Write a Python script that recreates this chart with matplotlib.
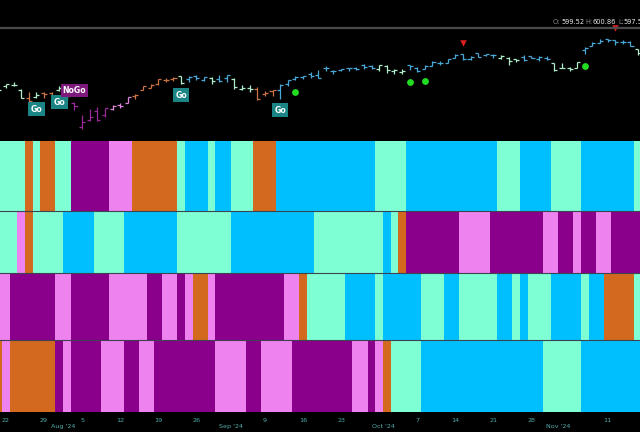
import matplotlib
matplotlib.use("Agg")
import matplotlib.pyplot as plt
from matplotlib.transforms import offset_copy, blended_transform_factory
from matplotlib.colors import ListedColormap
from matplotlib.lines import Line2D
import numpy as np

# ---------------- data ----------------
tick_idx = [1, 6, 11, 16, 21, 26, 35, 40, 45, 55, 60, 65, 70, 80]
tick_labels = ["22", "29", "5", "12", "19", "26", "9", "16", "23", "7", "14", "21", "28", "11"]
month_idx = [9, 31, 51, 74]
month_labels = ["Aug '24", "Sep '24", "Oct '24", "Nov '24"]

opens = [552.4, 553.0, 554.5, 548.9, 541.4, 542.3, 546.0, 546.3, 548.98, 552.6,
         535.8, 511.6, 519.2, 528.5, 523.9, 529.8, 534.2, 536.5, 542.85, 549.5,
         551.4, 554.7, 559.15, 559.77, 562.56, 559.53, 563.18, 559.49, 561.21, 560.31,
         560.77, 560.47, 550.2, 550.89, 549.94, 544.65, 548.36, 548.7, 555.01, 559.71,
         561.74, 565.1, 563.74, 571.01, 567.84, 569.34, 571.07, 571.14, 574.38, 573.39,
         570.42, 573.4, 567.71, 567.36, 573.7, 571.3, 570.42, 573.16, 575.77, 576.05,
         581.22, 584.59, 579.78, 585.91, 584.07, 583.85, 581.05, 581.26, 579.98, 581.51,
         582.58, 579.85, 581.29, 575.56, 571.32, 571.18, 570.74, 589.2, 593.08, 596.17,
         599.81, 598.85, 597.37, 597.32, 589.72]
highs = [554.1, 555.3, 556.7, 549.7, 547.5, 547.2, 547.0, 547.3, 553.5, 554.87,
         536.99, 523.6, 529.75, 531.6, 531.3, 534.5, 535.7, 542.3, 544.96, 553.36,
         555.0, 559.6, 560.8, 562.1, 563.18, 563.09, 563.91, 562.06, 561.65, 563.68,
         564.2, 560.81, 554.43, 553.8, 551.6, 547.71, 549.15, 555.36, 559.4, 563.03,
         563.11, 566.58, 568.69, 572.88, 569.31, 570.33, 571.37, 571.89, 574.71, 574.22,
         574.38, 574.06, 569.9, 569.8, 573.78, 571.96, 573.78, 577.71, 577.58, 580.33,
         585.27, 584.9, 582.83, 586.12, 585.39, 584.85, 584.5, 581.71, 580.06, 584.46,
         582.71, 582.91, 583.32, 575.63, 575.55, 572.5, 576.74, 591.93, 596.65, 599.64,
         600.17, 599.29, 599.23, 597.81, 590.2]
lows = [547.9, 551.0, 553.3, 540.8, 537.4, 540.9, 541.4, 537.4, 547.6, 539.4,
        528.6, 510.27, 517.87, 518.05, 521.8, 528.6, 530.95, 536.3, 540.1, 548.9,
        551.3, 553.9, 557.3, 557.7, 554.98, 557.29, 559.05, 558.32, 555.04, 557.18,
        557.14, 549.51, 549.46, 547.1, 539.44, 542.68, 543.38, 539.96, 552.74, 559.45,
        559.9, 560.79, 560.83, 568.08, 565.17, 568.1, 567.6, 568.91, 569.9, 570.42,
        568.08, 566.0, 565.27, 565.49, 568.55, 566.63, 569.53, 572.55, 574.49, 575.91,
        580.73, 578.54, 578.96, 582.16, 582.58, 580.6, 580.38, 574.42, 576.57, 578.08,
        580.52, 578.43, 579.29, 568.44, 570.62, 567.89, 570.52, 585.39, 593.0, 596.17,
        597.0, 594.37, 594.96, 592.65, 583.86]
closes = [548.99, 554.65, 553.78, 541.23, 538.41, 544.44, 544.76, 542.0, 550.81, 543.01,
          532.9, 517.38, 522.15, 518.66, 530.65, 532.99, 533.27, 542.04, 543.75, 553.07,
          554.31, 559.61, 558.7, 560.62, 556.22, 562.13, 560.79, 561.56, 558.3, 558.35,
          563.68, 552.08, 550.95, 549.61, 540.36, 546.41, 548.79, 554.42, 559.09, 562.01,
          562.84, 563.07, 561.4, 570.98, 568.25, 569.67, 571.3, 570.04, 572.3, 571.47,
          573.76, 568.62, 568.86, 567.82, 572.98, 567.8, 573.17, 577.14, 576.13, 579.58,
          584.32, 579.78, 582.3, 582.35, 584.59, 583.63, 583.32, 577.99, 579.24, 579.04,
          580.83, 581.77, 580.01, 568.64, 571.04, 569.81, 576.7, 591.04, 595.61, 598.19,
          598.76, 596.9, 597.19, 593.35, 585.75]

# state codes per bar: A aquamarine, B deepskyblue, O chocolate, M darkmagenta, V violet
row1 = "AAAAOAOOAAMMMMMVVVOOOOOOABBBABBAAAOOOBBBBBBBBBBBBBAAAABBBBBBBBBBBBAAABBBBAAAABBBBBBBA"
row2 = "AAAVOAAAABBBBAAAABBBBBBBAAAAAAABBBBBBBBBBBAAAAAAAAABAOMMMMMMMVVVVMMMMMMMVVMMVMMVVMMMM"
row3 = "VVMMMMMMVVMMMMMVVVVVMMVVMVOOVMMMMMMMMMVVOAAAAABBBBABBBBBAAABBAAAAABBABAAABBBBABBOOOOA"
row4 = "OVOOOOOOMVMMMMVVVMMVVMMMMMMMMVVVVMMVVVVMMMMMMMMVVMVOAAAABBBBBBBBBBBBBBBBAAAAABBBBBBBB"

go_idx = [5, 8, 24, 37]
nogo_idx = [10]
dot_idx = [39, 54, 56, 77]
tri_idx = [61, 81]

header_labels = ["O:", "H:", "L:"]
header_values = ["599.52", "600.86", "597.56"]

# ---------------- style ----------------
codes = "ABOMV"
palette = ["#7FFFD4", "#00BFFF", "#D2691E", "#8B008B", "#EE82EE"]
bar_palette = ["#b0eecb", "#4aa8d8", "#cc7444", "#9a2a9a", "#dc86dc"]
cmap = ListedColormap(palette)
W, H = 640, 432

fig = plt.figure(figsize=(6.4, 4.32), dpi=100, facecolor="black")

def fy(px):
    return 1 - px / H

XL = (0.22, 84.25)

# price panel
ax = fig.add_axes([0, fy(140), 1, 140 / H])
ax.set_facecolor("black")
ax.set_xlim(*XL)
ax.set_ylim(499, 639)
ax.axis("off")

x = np.arange(len(closes))
o = np.array(opens); h = np.array(highs); l = np.array(lows); c = np.array(closes)
cols = [bar_palette[codes.index(s)] for s in row1]
ax.vlines(x, l, h, colors=cols, lw=0.9)
ax.hlines(o, x - 0.4, x, colors=cols, lw=0.9)
ax.hlines(c, x, x + 0.4, colors=cols, lw=0.9)

ax.plot([0, 1], [1 - 27.7 / 140] * 2, transform=ax.transAxes, color="#4a4a4a", lw=1.6)

px2pt = 72 / 100
for i in go_idx:
    ax.annotate("Go", xy=(i, lows[i]), xytext=(0, -11 * px2pt), textcoords="offset points",
                ha="center", va="center", fontsize=5.6, color="white", fontweight="bold",
                bbox=dict(boxstyle="square,pad=0.32", fc="#1b8585", ec="none"))
for i in nogo_idx:
    ax.annotate("NoGo", xy=(i, highs[i]), xytext=(0, 11.5 * px2pt), textcoords="offset points",
                ha="center", va="center", fontsize=5.6, color="white", fontweight="bold",
                bbox=dict(boxstyle="square,pad=0.2", fc="#7e1a7e", ec="none"))

tr_dn = offset_copy(ax.transData, fig=fig, y=-12 * px2pt, units="points")
tr_up = offset_copy(ax.transData, fig=fig, y=11.5 * px2pt, units="points")
ax.scatter(dot_idx, [lows[i] for i in dot_idx], transform=tr_dn, s=24, color="#22dd22", lw=0)
ax.scatter(tri_idx, [highs[i] for i in tri_idx], transform=tr_up, s=22, marker="v", color="#e02020", lw=0)

# header texts
hx_lab = [553, 585, 618]
hx_val = [561, 592.5, 623.5]
for xl_, xv_, lab, val in zip(hx_lab, hx_val, header_labels, header_values):
    fig.text(xl_ / W, fy(22.5), lab, color="#8a8a8a", fontsize=4.8, va="center", ha="left")
    fig.text(xv_ / W, fy(22.5), val, color="#e8e8e8", fontsize=4.8, va="center", ha="left")

# heat rows
rows = [row1, row2, row3, row4]
bounds = [(141, 210.5), (210.5, 272.5), (272.5, 339.5), (339.5, 412)]
edges = np.arange(len(row1) + 1) - 0.5
axes = []
for r, (t, b) in zip(rows, bounds):
    a = fig.add_axes([0, fy(b), 1, (b - t) / H])
    vals = np.array([[codes.index(s) for s in r]])
    a.pcolormesh(edges, [0, 1], vals, cmap=cmap, vmin=-0.5, vmax=4.5)
    a.set_xlim(*XL)
    a.set_ylim(0, 1)
    a.axis("off")
    axes.append(a)

for yp in [210.5, 272.5, 339.5]:
    fig.add_artist(Line2D([0, 1], [fy(yp)] * 2, transform=fig.transFigure, color="#3c4452", lw=0.8))

ax4 = axes[-1]
bt = blended_transform_factory(ax4.transData, fig.transFigure)
lab_col = "#52abab"
for i, s in zip(tick_idx, tick_labels):
    fig.text(i, fy(420), s, transform=bt, color=lab_col, fontsize=4.6, ha="center", va="center")
for i, s in zip(month_idx, month_labels):
    fig.text(i - 0.5, fy(426.8), s, transform=bt, color=lab_col, fontsize=4.6, ha="center", va="center")

fig.savefig("out.png", dpi=100, facecolor="black")
